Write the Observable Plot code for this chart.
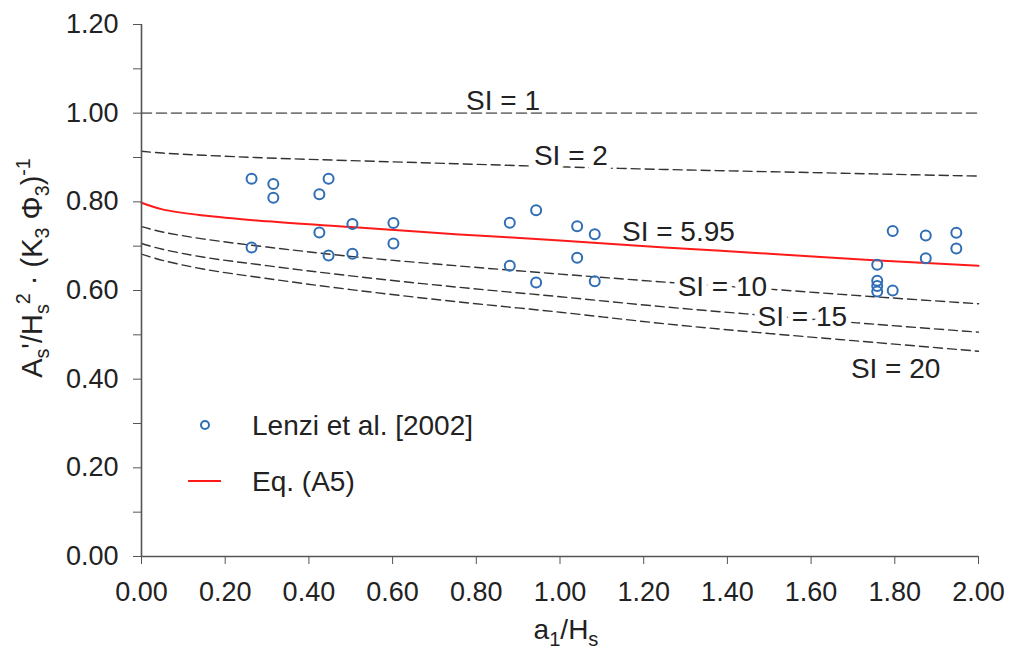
<!DOCTYPE html>
<html>
<head>
<meta charset="utf-8">
<script src="https://cdn.jsdelivr.net/npm/d3@7"></script>
<script src="https://cdn.jsdelivr.net/npm/@observablehq/plot@0.6"></script>
<style>
  html, body { margin: 0; padding: 0; background: #fff; }
  #chart svg { display: block; }
</style>
</head>
<body>
<div id="chart"></div>
<script>
// ---- Data ----
// Lenzi et al. [2002] measurements
const lenziX = [0.263,0.263,0.315,0.315,0.425,0.425,0.447,0.447,0.504,0.504,0.602,0.602,
                0.880,0.880,0.943,0.943,1.041,1.041,1.083,1.083,
                1.758,1.758,1.758,1.758,1.795,1.795,1.874,1.874,1.947,1.947];
const lenziY = [0.852,0.697,0.840,0.809,0.817,0.731,0.852,0.679,0.750,0.683,0.752,0.706,
                0.753,0.656,0.781,0.618,0.745,0.674,0.727,0.621,
                0.658,0.622,0.610,0.598,0.734,0.600,0.724,0.673,0.730,0.695];

// Curves (read at these a1/Hs values)
const curveX = [0, 0.05, 0.15, 0.3, 0.5, 0.75, 1.0, 1.25, 1.5, 1.75, 2.0];
const si1  = [1.000,1.000,1.000,1.000,1.000,1.000,1.000,1.000,1.000,1.000,1.000];
const si2  = [0.914,0.910,0.905,0.899,0.893,0.886,0.879,0.873,0.868,0.863,0.858];
const eqA5 = [0.798,0.783,0.769,0.756,0.743,0.727,0.713,0.697,0.683,0.668,0.656];
const si10 = [0.744,0.732,0.716,0.698,0.677,0.656,0.637,0.619,0.603,0.586,0.570];
const si15 = [0.706,0.693,0.675,0.656,0.633,0.608,0.586,0.563,0.543,0.524,0.506];
const si20 = [0.682,0.668,0.648,0.627,0.602,0.575,0.551,0.525,0.503,0.483,0.463];

// Curve labels and their anchor points (data units)
const labelText = ["SI = 1", "SI = 2", "SI = 5.95", "SI = 10", "SI = 15", "SI = 20"];
const labelX = [0.864, 1.026, 1.283, 1.388, 1.579, 1.802];
const labelY = [1.028, 0.904, 0.731, 0.607, 0.541, 0.422];

// Axis ticks
const xTicks = [0, 0.2, 0.4, 0.6, 0.8, 1.0, 1.2, 1.4, 1.6, 1.8, 2.0];
const yTicks = [0, 0.2, 0.4, 0.6, 0.8, 1.0, 1.2];
const yMinorTicks = [0.1, 0.3, 0.5, 0.7, 0.9, 1.1];

// ---- Build tables ----
const points = lenziX.map((x, i) => ({x, y: lenziY[i]}));
const mkCurve = (name, ys) => curveX.map((x, i) => ({name, x, y: ys[i]}));
const dashedCurves = [
  ...mkCurve("SI=2", si2), ...mkCurve("SI=10", si10),
  ...mkCurve("SI=15", si15), ...mkCurve("SI=20", si20)
];
const topCurve = mkCurve("SI=1", si1);
const redCurve = mkCurve("Eq. (A5)", eqA5);
const labels = labelText.map((t, i) => ({t, x: labelX[i], y: labelY[i]}));

const FONT = "'Liberation Sans', Arial, Helvetica, sans-serif";
const AX = "#555";

const labelOpts = {x: "x", y: "y", text: "t", fontSize: 28, textAnchor: "middle", lineAnchor: "middle"};

const chart = Plot.plot({
  width: 1020,
  height: 650,
  marginLeft: 141,
  marginRight: 42,
  marginTop: 24,
  marginBottom: 94,
  style: {fontFamily: FONT, fontSize: "27px", color: "#222", background: "#fff"},
  x: {domain: [0, 2]},
  y: {domain: [0, 1.2]},
  marks: [
    Plot.line(dashedCurves, {x: "x", y: "y", z: "name", stroke: "#333", strokeWidth: 1.4,
      strokeDasharray: "9,5", curve: "catmull-rom"}),
    // white knock-out behind the curve labels, then the labels themselves
    Plot.text(labels, {...labelOpts, fill: "white", stroke: "white", strokeWidth: 11, strokeLinejoin: "round"}),
    Plot.text(labels, {...labelOpts, fill: "#222"}),
    Plot.line(topCurve, {x: "x", y: "y", stroke: "#7a7a7a", strokeWidth: 1.6, strokeDasharray: "10,5"}),
    Plot.line(redCurve, {x: "x", y: "y", stroke: "#ff1a1a", strokeWidth: 2, curve: "catmull-rom"}),
    Plot.dot(points, {x: "x", y: "y", r: 5, stroke: "#2f6db5", strokeWidth: 2, fill: "none"}),
    Plot.axisY(yMinorTicks, {tickSize: 8, tickFormat: () => "", stroke: AX, label: null}),
    Plot.axisY(yTicks, {tickSize: 8, tickPadding: 15, tickFormat: d => d.toFixed(2), stroke: AX, label: null}),
    Plot.axisX(xTicks, {tickSize: 8, tickPadding: 17, tickFormat: d => d.toFixed(2), stroke: AX, label: null}),
    Plot.ruleX([0], {stroke: AX, strokeWidth: 1.6}),
    Plot.ruleY([0], {stroke: AX, strokeWidth: 1.6})
  ]
});

document.getElementById("chart").appendChild(chart);

// ---- Axis titles and legend (text with sub/superscripts) ----
const svg = d3.select(chart);

function richText(sel, parts, size, subScale) {
  // parts: [text, kind] where kind in "n","sub","sup"
  let shift = 0;
  parts.forEach(([t, kind]) => {
    const target = kind === "sub" ? size * 0.24 : kind === "sup" ? -size * 0.42 : 0;
    sel.append("tspan")
      .attr("dy", target - shift)
      .attr("font-size", kind === "n" ? size : size * subScale)
      .text(t);
    shift = target;
  });
}

const xl = svg.append("text")
  .attr("x", 566).attr("y", 639)
  .attr("text-anchor", "middle")
  .attr("font-family", FONT).attr("font-size", 28).attr("fill", "#222");
richText(xl, [["a","n"],["1","sub"],["/H","n"],["s","sub"]], 28, 0.72);

const yl = svg.append("text")
  .attr("transform", "translate(42,268) rotate(-90)")
  .attr("text-anchor", "middle")
  .attr("font-family", FONT).attr("font-size", 29).attr("fill", "#222");
richText(yl, [["A","n"],["s","sub"],["'/H","n"],["s","sub"],["2","sup"],[" · (K","n"],["3","sub"],[" Φ","n"],["3","sub"],[")","n"],["-1","sup"]], 29, 0.68);

// legend
const lg = svg.append("g").attr("font-family", FONT).attr("font-size", 28)
  .attr("fill", "#222").attr("text-anchor", "start");
lg.append("circle").attr("cx", 205).attr("cy", 425).attr("r", 4)
  .attr("fill", "none").attr("stroke", "#2f6db5").attr("stroke-width", 2);
lg.append("text").attr("x", 252).attr("y", 425).attr("dy", "0.35em").attr("text-anchor", "start").text("Lenzi et al. [2002]");
lg.append("line").attr("x1", 188).attr("x2", 221).attr("y1", 481).attr("y2", 481)
  .attr("stroke", "#ff1a1a").attr("stroke-width", 2);
lg.append("text").attr("x", 252).attr("y", 481).attr("dy", "0.35em").attr("text-anchor", "start").text("Eq. (A5)");
</script>
</body>
</html>
